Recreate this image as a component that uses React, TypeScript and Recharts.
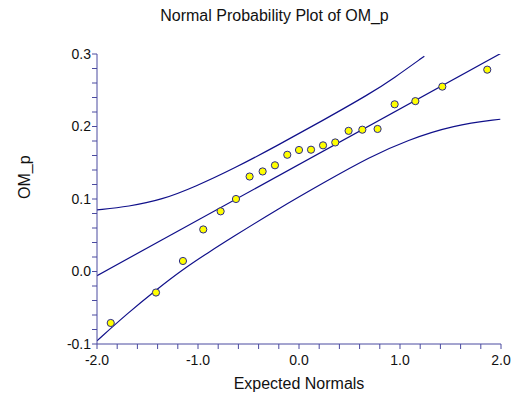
import React from "react";
import {
  ComposedChart,
  Scatter,
  Line,
  XAxis,
  YAxis,
} from "recharts";

// observed values vs expected normal scores
const expectedNormals = [
  -1.864, -1.416, -1.149, -0.948, -0.776, -0.624, -0.489, -0.36, -0.238, -0.116, 0.0,
  0.119, 0.238, 0.359, 0.491, 0.627, 0.778, 0.947, 1.152, 1.419, 1.864,
];
const omValues = [
  -0.071, -0.029, 0.0145, 0.058, 0.083, 0.1, 0.131, 0.138, 0.1465, 0.161, 0.1676,
  0.168, 0.174, 0.178, 0.194, 0.1956, 0.1966, 0.2306, 0.235, 0.255, 0.2784,
];

const fitX = [-2.0, 2.0];
const fitY = [-0.0057, 0.301];

const upperX = [-2.0, -1.687, -1.356, -1.027, -0.631, -0.218, 0.244, 0.706, 0.937, 1.241];
const upperY = [0.085, 0.0895, 0.099, 0.117, 0.143, 0.1735, 0.209, 0.2455, 0.2665, 0.297];

const lowerX = [-2.0, -1.7, -1.416, -1.15, -0.9, -0.663, -0.218, 0.244, 0.706, 1.069, 1.531, 1.993];
const lowerY = [-0.0955, -0.058, -0.0255, 0.003, 0.026, 0.047, 0.0855, 0.1226, 0.1584, 0.181, 0.202, 0.21];

const xTicks = [
  -2.0, -1.8, -1.6, -1.4, -1.2, -1.0, -0.8, -0.6, -0.4, -0.2, 0.0,
  0.2, 0.4, 0.6, 0.8, 1.0, 1.2, 1.4, 1.6, 1.8, 2.0,
];
const yTicks = [
  -0.1, -0.08, -0.06, -0.04, -0.02, 0.0, 0.02, 0.04, 0.06, 0.08, 0.1,
  0.12, 0.14, 0.16, 0.18, 0.2, 0.22, 0.24, 0.26, 0.28, 0.3,
];

const zip = (xs: number[], ys: number[]) => xs.map((x, i) => ({ x, y: ys[i] }));

const points = zip(expectedNormals, omValues);
const fit = zip(fitX, fitY);
const upper = zip(upperX, upperY);
const lower = zip(lowerX, lowerY);

const AXIS = "#4a4aa0";
const NAVY = "#10108a";
const FONT = "Liberation Sans, Arial, sans-serif";

const majorLabel = (step: number) => (v: number) => {
  const r = v / step;
  return Math.abs(r - Math.round(r)) < 1e-6 ? v.toFixed(1) : "";
};

const Dot = (props: any) => (
  <circle cx={props.cx} cy={props.cy} r={3.6} fill="#ffff00" stroke="#2a2a8a" strokeWidth={1} />
);

export default function App() {
  return (
    <div style={{ position: "absolute", left: 0, top: 0, width: 531, height: 400, background: "#fff", fontFamily: FONT }}>
      <div
        style={{
          position: "absolute",
          left: 0,
          width: 549,
          top: 7,
          textAlign: "center",
          fontSize: 16,
          color: "#111",
        }}
      >
        Normal Probability Plot of OM_p
      </div>
      <ComposedChart
        width={531}
        height={400}
        margin={{ top: 54, right: 30, bottom: 0, left: 0 }}
      >
        <XAxis
          type="number"
          dataKey="x"
          domain={[-2, 2]}
          ticks={xTicks}
          interval={0}
          allowDataOverflow
          tickFormatter={majorLabel(1)}
          tickSize={5}
          tickMargin={6}
          height={56}
          stroke={AXIS}
          tick={{ fill: "#111", fontSize: 14, fontFamily: FONT }}
          label={{ value: "Expected Normals", position: "insideBottom", offset: 11, fill: "#111", fontSize: 16, fontFamily: FONT }}
        />
        <YAxis
          type="number"
          dataKey="y"
          domain={[-0.1, 0.3]}
          ticks={yTicks}
          interval={0}
          allowDataOverflow
          tickFormatter={majorLabel(0.1)}
          tickSize={5}
          tickMargin={1}
          width={97}
          stroke={AXIS}
          tick={{ fill: "#111", fontSize: 14, fontFamily: FONT }}
          label={{ value: "OM_p", angle: -90, position: "insideLeft", offset: 24, fill: "#111", fontSize: 16, fontFamily: FONT }}
        />
        <Line data={upper} dataKey="y" type="basis" stroke={NAVY} strokeWidth={1.2} dot={false} isAnimationActive={false} />
        <Line data={lower} dataKey="y" type="basis" stroke={NAVY} strokeWidth={1.2} dot={false} isAnimationActive={false} />
        <Line data={fit} dataKey="y" type="linear" stroke={NAVY} strokeWidth={1.2} dot={false} isAnimationActive={false} />
        <Scatter data={points} dataKey="y" shape={<Dot />} isAnimationActive={false} />
      </ComposedChart>
    </div>
  );
}
